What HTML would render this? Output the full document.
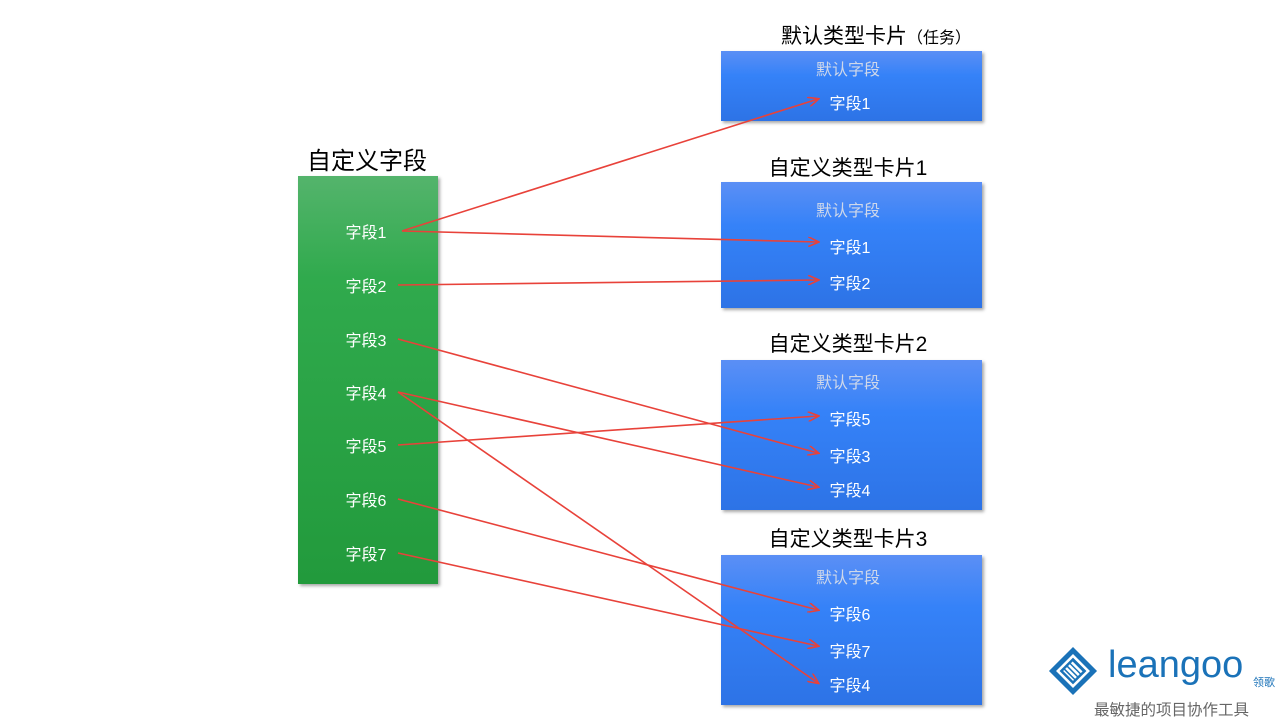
<!DOCTYPE html><html><head><meta charset="utf-8"><style>
body{margin:0;width:1280px;height:720px;background:#fff;position:relative;overflow:hidden;font-family:"Liberation Sans","Noto Sans CJK SC",sans-serif}
.t{position:absolute;white-space:nowrap;font-size:16px}
.g{position:absolute;left:298px;top:176px;width:140px;height:408px;background:linear-gradient(#54b46c,#30aa4d 25%,#229a3c);box-shadow:2px 2px 3px rgba(0,0,0,.35)}
.b{position:absolute;left:721px;width:261px;background:linear-gradient(#5b8ff5,#3582f8 35%,#2d73e6);box-shadow:2px 2px 3px rgba(0,0,0,.35)}
.w{color:#fff;font-size:16px;position:absolute;transform:translate(-50%,-50%);white-space:nowrap}
.d{color:#cfd8ea}
.h{font-size:21px;color:#000;position:absolute;transform:translateX(-50%);white-space:nowrap}
</style></head><body>
<div class="h" style="left:367px;top:141px;font-size:24px">自定义字段</div>
<div class="g"></div>
<div class="h" style="left:876px;top:20px">默认类型卡片<span style="font-size:16px">（任务）</span></div>
<div class="b" style="top:51px;height:70px"></div>
<div class="h" style="left:848px;top:152px">自定义类型卡片1</div>
<div class="b" style="top:182px;height:126px"></div>
<div class="h" style="left:848px;top:328px">自定义类型卡片2</div>
<div class="b" style="top:360px;height:150px"></div>
<div class="h" style="left:848px;top:523px">自定义类型卡片3</div>
<div class="b" style="top:555px;height:150px"></div>
<div class="w" style="left:366px;top:231px">字段1</div>
<div class="w" style="left:366px;top:285px">字段2</div>
<div class="w" style="left:366px;top:339px">字段3</div>
<div class="w" style="left:366px;top:392px">字段4</div>
<div class="w" style="left:366px;top:445px">字段5</div>
<div class="w" style="left:366px;top:499px">字段6</div>
<div class="w" style="left:366px;top:553px">字段7</div>
<div class="w d" style="left:848px;top:68px">默认字段</div>
<div class="w" style="left:850px;top:102px">字段1</div>
<div class="w d" style="left:848px;top:209px">默认字段</div>
<div class="w" style="left:850px;top:246px">字段1</div>
<div class="w" style="left:850px;top:282px">字段2</div>
<div class="w d" style="left:848px;top:381px">默认字段</div>
<div class="w" style="left:850px;top:418px">字段5</div>
<div class="w" style="left:850px;top:455px">字段3</div>
<div class="w" style="left:850px;top:489px">字段4</div>
<div class="w d" style="left:848px;top:576px">默认字段</div>
<div class="w" style="left:850px;top:613px">字段6</div>
<div class="w" style="left:850px;top:650px">字段7</div>
<div class="w" style="left:850px;top:684px">字段4</div>
<svg width="1280" height="720" style="position:absolute;left:0;top:0">
<defs><marker id="a" markerWidth="12" markerHeight="10" refX="10" refY="5" orient="auto" markerUnits="userSpaceOnUse"><path d="M0,0 L11,5 L0,10" fill="none" stroke="#e8423a" stroke-width="1.6"/></marker></defs>
<g stroke="#e8423a" stroke-width="1.6" fill="none" marker-end="url(#a)">
<line x1="402" y1="231" x2="818" y2="99"/>
<line x1="402" y1="231" x2="818" y2="242"/>
<line x1="398" y1="285" x2="818" y2="280"/>
<line x1="398" y1="339" x2="818" y2="453"/>
<line x1="398" y1="392" x2="818" y2="487"/>
<line x1="398" y1="392" x2="818" y2="683"/>
<line x1="398" y1="445" x2="818" y2="416"/>
<line x1="398" y1="499" x2="818" y2="610"/>
<line x1="398" y1="553" x2="818" y2="646"/>
</g>
<g transform="translate(1073,671) rotate(45)">
<rect x="-17" y="-17" width="34" height="34" fill="#1a72b8"/>
<rect x="-12" y="-12" width="24" height="24" fill="#fff"/>
<rect x="-9.5" y="-9.5" width="19" height="19" fill="#1a72b8"/>
<g fill="#fff"><rect x="-7" y="-6.5" width="14" height="2.5"/><rect x="-7" y="-2.5" width="14" height="2.5"/><rect x="-7" y="1.5" width="14" height="2.5"/><rect x="-7" y="5.5" width="14" height="1.5"/></g>
</g>
</svg>
<div class="t" style="left:1108px;top:644px;font-size:38px;color:#1a72b8">leangoo</div>
<div class="t" style="left:1253px;top:674px;font-size:11px;color:#1a72b8">领歌</div>
<div class="t" style="left:1094px;top:698px;font-size:15.5px;color:#666">最敏捷的项目协作工具</div>
</body></html>
